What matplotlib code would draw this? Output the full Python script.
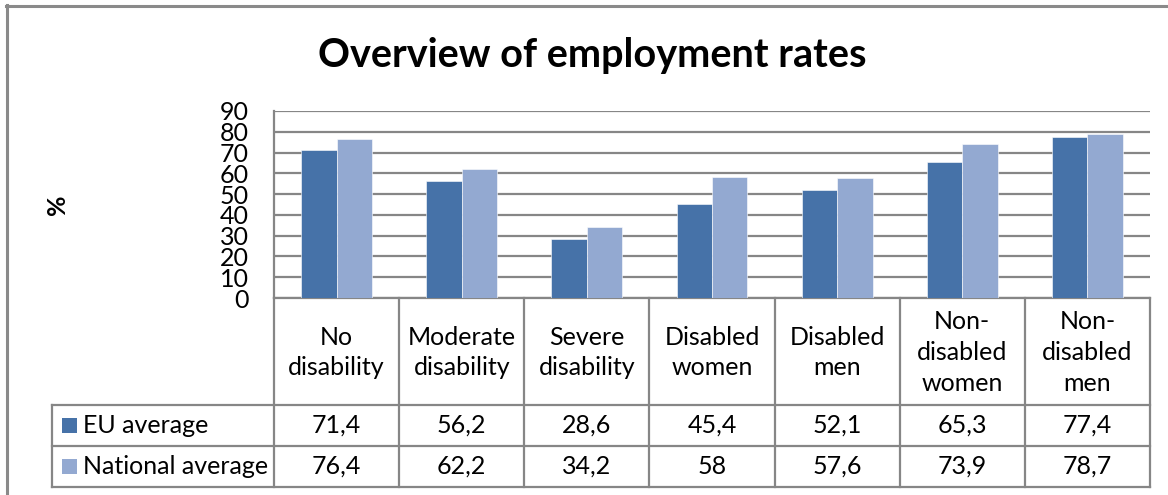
import matplotlib
matplotlib.use("Agg")
import matplotlib.pyplot as plt
from matplotlib.lines import Line2D
from matplotlib.patches import Rectangle
import numpy as np

categories = ["No\ndisability", "Moderate\ndisability", "Severe\ndisability",
              "Disabled\nwomen", "Disabled\nmen", "Non-\ndisabled\nwomen",
              "Non-\ndisabled\nmen"]
series_names = ["EU average", "National average"]
eu_average = [71.4, 56.2, 28.6, 45.4, 52.1, 65.3, 77.4]
national_average = [76.4, 62.2, 34.2, 58, 57.6, 73.9, 78.7]
yticks = [0, 10, 20, 30, 40, 50, 60, 70, 80, 90]
title = "Overview of employment rates"
ylabel = "%"

colors = ["#4672A8", "#93A9D1"]
grid_c = "#868686"
FONT = ["Lato", "DejaVu Sans"]
plt.rcParams["font.family"] = FONT

W, H = 1168, 495
fig = plt.figure(figsize=(W / 100, H / 100), dpi=100)

def fx(x):
    return x / W

def fy(y):
    return 1 - y / H

def hline(y, x0, x1, lw=1.6, c=grid_c):
    fig.add_artist(Line2D([fx(x0), fx(x1)], [fy(y), fy(y)], color=c, lw=lw,
                          transform=fig.transFigure))

def vline(x, y0, y1, lw=1.6, c=grid_c):
    fig.add_artist(Line2D([fx(x), fx(x)], [fy(y0), fy(y1)], color=c, lw=lw,
                          transform=fig.transFigure))

# outer chart frame
hline(5.5, 6, W + 5, lw=2.2, c="#8a8a8a")
vline(7, 5, H + 5, lw=2.2, c="#8a8a8a")

# plot area
L, R, T, B = 274, 1150, 111, 298
ax = fig.add_axes([fx(L), fy(B), fx(R) - fx(L), (B - T) / H])
n = len(categories)
x = np.arange(n)
bw = 0.283
ax.bar(x - bw / 2, eu_average, width=bw, color=colors[0], zorder=3,
       edgecolor="white", linewidth=0.4)
ax.bar(x + bw / 2, national_average, width=bw, color=colors[1], zorder=3,
       edgecolor="white", linewidth=0.4)
ax.set_xlim(-0.5, n - 0.5)
ax.set_ylim(0, 90)
ax.set_yticks(yticks)
ax.set_yticklabels([str(t) for t in yticks], fontsize=18)
ax.set_xticks([])
ax.tick_params(axis="y", length=0, pad=18)
ax.yaxis.grid(True, color=grid_c, lw=1.6, zorder=0)
ax.set_axisbelow(True)
for s in ["top", "right"]:
    ax.spines[s].set_visible(False)
for s in ["left", "bottom"]:
    ax.spines[s].set_color(grid_c)
    ax.spines[s].set_linewidth(1.6)

# title and y label
fig.text(fx(592), fy(55), title, ha="center", va="center", fontsize=28.5,
         fontweight="bold")
fig.text(fx(57), fy(205), ylabel, ha="center", va="center", fontsize=18,
         fontweight="bold", rotation=90)

# data table
r0, r1, r2, r3 = B, 405, 446, 487
cw = (R - L) / n
for k in range(n + 1):
    vline(L + k * cw, r0, r3)
hline(r1, 52, R)
hline(r2, 52, R)
hline(r3, 52, R)
vline(52, r1, r3)

fs = 18
for i, cat in enumerate(categories):
    fig.text(fx(L + (i + 0.5) * cw), fy((r0 + r1) / 2 + 1), cat, ha="center",
             va="center", fontsize=fs, linespacing=1.4)

def fmt(v):
    return f"{v:g}".replace(".", ",")

for row, (name, vals, col) in enumerate(zip(series_names,
                                            [eu_average, national_average],
                                            colors)):
    ya, yb = (r1, r2) if row == 0 else (r2, r3)
    yc = (ya + yb) / 2
    fig.add_artist(Rectangle((fx(62), fy(yc + 7.5)), 15 / W, 15 / H,
                             transform=fig.transFigure, color=col, lw=0))
    fig.text(fx(83), fy(yc), name, ha="left", va="center", fontsize=fs)
    for i, v in enumerate(vals):
        fig.text(fx(L + (i + 0.5) * cw), fy(yc), fmt(v), ha="center",
                 va="center", fontsize=fs)

fig.savefig("out.png", dpi=100)
